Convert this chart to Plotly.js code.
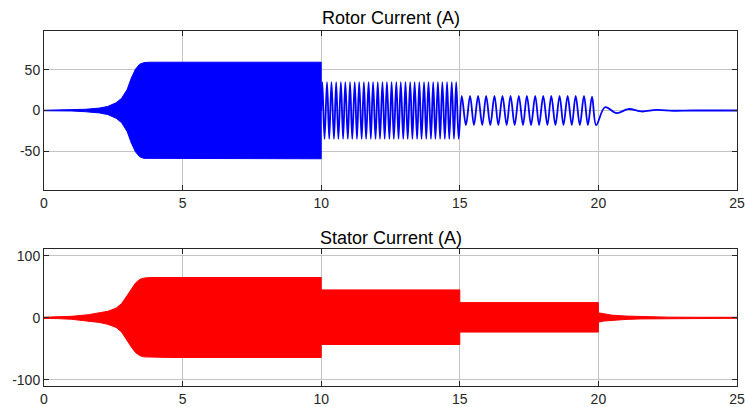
<!DOCTYPE html>
<html>
<head>
<meta charset="utf-8">
<script src="https://cdn.plot.ly/plotly-3.0.1.min.js"></script>
<style>html,body{margin:0;padding:0;background:#fff;}#chart{width:745px;height:407px;}</style>
</head>
<body>
<div id="chart"></div>
<script>
// ---- Data ----
// Rotor current: dense oscillation envelope from 0 to 10 s
var rotorEnvT     = [0, 1.0, 1.5, 2.0, 2.3, 2.6, 2.8, 3.0, 3.15, 3.3, 3.45, 3.6, 3.8, 4.5, 10];
var rotorEnvUpper = [0.3, 0.6, 1.5, 3, 5, 9.5, 15, 26, 40, 51, 57, 59, 59.5, 59.5, 59.5];
var rotorEnvLower = [-0.3, -0.6, -1.5, -3, -5, -9.5, -15, -26, -40, -51, -57, -59, -59.5, -59.5, -59.5];

// Rotor current: resolved oscillation (extrema), 10 s to 25 s
var rotorWaveT = [
  10.00,
  10.04, 10.12, 10.21, 10.29, 10.37, 10.46, 10.54, 10.62, 10.71, 10.79, 10.87, 10.96,
  11.04, 11.12, 11.21, 11.29, 11.37, 11.46, 11.54, 11.62, 11.71, 11.79, 11.87, 11.96,
  12.04, 12.12, 12.21, 12.29, 12.37, 12.46, 12.54, 12.62, 12.71, 12.79, 12.87, 12.96,
  13.04, 13.12, 13.21, 13.29, 13.37, 13.46, 13.54, 13.62, 13.71, 13.79, 13.87, 13.96,
  14.04, 14.12, 14.21, 14.29, 14.37, 14.46, 14.54, 14.62, 14.71, 14.79, 14.87, 14.96,
  15.07, 15.22, 15.37, 15.51, 15.66, 15.81, 15.95, 16.10, 16.25, 16.39, 16.54, 16.69,
  16.83, 16.98, 17.13, 17.28, 17.42, 17.57, 17.72, 17.86, 18.01, 18.16, 18.30, 18.45,
  18.60, 18.74, 18.89, 19.04, 19.18, 19.33, 19.48, 19.62, 19.77, 19.92,
  20.24, 20.66, 21.08, 21.56, 22.10, 22.70, 23.40, 25.00
];
var rotorWaveI = [
  0,
  35, -35, 35, -35, 35, -35, 35, -35, 35, -35, 35, -35,
  35, -35, 35, -35, 35, -35, 35, -35, 35, -35, 35, -35,
  35, -35, 35, -35, 35, -35, 35, -35, 35, -35, 35, -35,
  35, -35, 35, -35, 35, -35, 35, -35, 35, -35, 35, -35,
  35, -35, 35, -35, 35, -35, 35, -35, 35, -35, 35, -35,
  18, -18, 18, -18, 18, -18, 18, -18, 18, -18, 18, -18,
  18, -18, 18, -18, 18, -18, 18, -18, 18, -18, 18, -18,
  18, -18, 18, -18, 18, -18, 18, -18, 17, -18,
  4, -3.2, 1.8, -1.2, 0.8, -0.3, 0, 0
];

// Stator current: dense oscillation envelope, 0 to 25 s
var statorEnvT     = [0, 0.5, 1.0, 1.6, 2.0, 2.3, 2.6, 2.8, 3.0, 3.15, 3.3, 3.45, 3.6, 3.8, 4.5, 10, 10, 15, 15, 20, 20, 20.2, 20.5, 21.0, 21.5, 22.0, 22.5, 23.5, 25];
var statorEnvUpper = [1.0, 1.3, 2.4, 5, 7.5, 10.5, 15.5, 23, 36, 47, 56, 62, 64, 65, 65, 65, 45, 45, 24.5, 24.5, 8, 6, 4.2, 2.8, 1.9, 1.4, 1.1, 0.9, 0.8];
var statorEnvLower = [-1.0, -1.3, -2.4, -5, -7.5, -10.5, -15.5, -23, -36, -47, -56, -61, -63, -64, -64, -64, -43, -43, -23, -23, -7, -5.2, -3.8, -2.6, -1.8, -1.3, -1.1, -0.9, -0.8];

var xTicks = [0, 5, 10, 15, 20, 25];
var rotorYTicks = [-50, 0, 50];
var statorYTicks = [-100, 0, 100];
var titles = ['Rotor Current (A)', 'Stator Current (A)'];

// ---- Build traces ----
function band(t, up, lo, color, xa, ya) {
  var xs = t.concat(t.slice().reverse());
  var ys = up.concat(lo.slice().reverse());
  return {x: xs, y: ys, type: 'scatter', mode: 'lines', fill: 'toself',
          fillcolor: color, line: {color: color, width: 1}, xaxis: xa, yaxis: ya,
          hoverinfo: 'skip', showlegend: false};
}

var traces = [
  band(rotorEnvT, rotorEnvUpper, rotorEnvLower, '#0000ff', 'x', 'y'),
  {x: rotorWaveT, y: rotorWaveI, type: 'scatter', mode: 'lines',
   line: {color: '#0000ff', width: 1.8, shape: 'spline', smoothing: 1},
   xaxis: 'x', yaxis: 'y', showlegend: false},
  band(statorEnvT, statorEnvUpper, statorEnvLower, '#ff0000', 'x2', 'y2')
];

var FONT = 'Arial, "Liberation Sans", sans-serif';
var axisCommon = {
  showline: true, linecolor: '#262626', linewidth: 1, mirror: 'allticks',
  ticks: 'inside', ticklen: 5, tickcolor: '#262626', tickwidth: 1,
  showgrid: true, gridcolor: '#c4c4c4', gridwidth: 1, zeroline: false,
  tickfont: {family: FONT, size: 14, color: '#262626'},
  ticklabeloverflow: 'allow',
  fixedrange: true
};
function ax(extra) { return Object.assign({}, axisCommon, extra); }

var H = 407;
var layout = {
  width: 745, height: 407,
  margin: {l: 44, r: 8, t: 0, b: 0, autoexpand: false},
  paper_bgcolor: '#ffffff', plot_bgcolor: '#ffffff',
  showlegend: false,
  xaxis:  ax({domain: [0, 1], range: [0, 25], tickmode: 'array', tickvals: xTicks, ticktext: xTicks.map(String), anchor: 'y'}),
  yaxis:  ax({domain: [1 - 190 / H, 1 - 31 / H], range: [-98, 98], tickmode: 'array', tickvals: rotorYTicks, ticktext: rotorYTicks.map(String), anchor: 'x'}),
  xaxis2: ax({domain: [0, 1], range: [0, 25], tickmode: 'array', tickvals: xTicks, ticktext: xTicks.map(String), anchor: 'y2'}),
  yaxis2: ax({domain: [1 - 386 / H, 1 - 249 / H], range: [-110, 111], tickmode: 'array', tickvals: statorYTicks, ticktext: statorYTicks.map(String), anchor: 'x2'}),
  annotations: [
    {text: titles[0], xref: 'paper', yref: 'paper', x: 0.5, y: 1 - 18 / H, xanchor: 'center', yanchor: 'middle',
     showarrow: false, font: {family: FONT, size: 18, color: '#000000'}},
    {text: titles[1], xref: 'paper', yref: 'paper', x: 0.5, y: 1 - 238 / H, xanchor: 'center', yanchor: 'middle',
     showarrow: false, font: {family: FONT, size: 18, color: '#000000'}}
  ]
};

Plotly.newPlot('chart', traces, layout, {staticPlot: true, displayModeBar: false});
</script>
</body>
</html>
